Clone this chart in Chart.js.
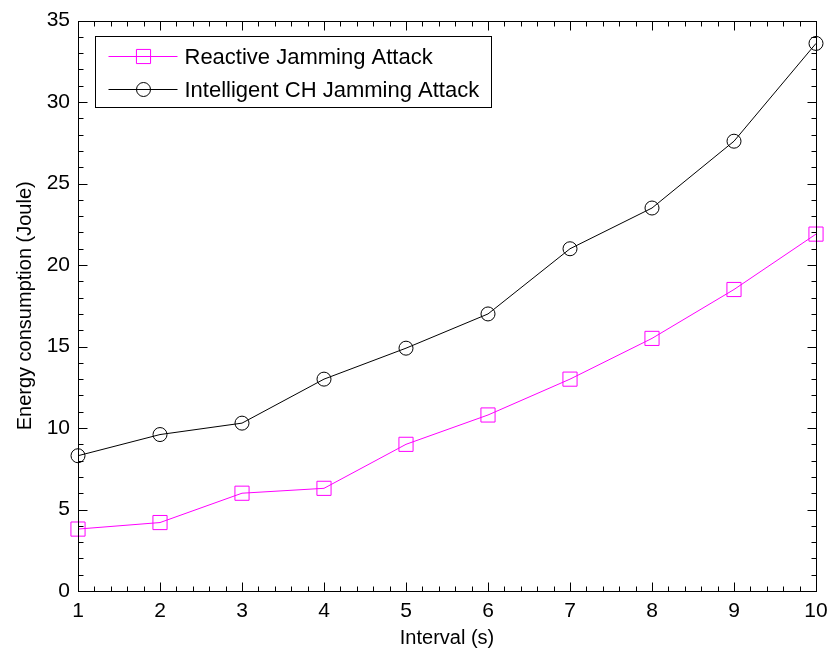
<!DOCTYPE html>
<html>
<head>
<meta charset="utf-8">
<script src="https://cdn.jsdelivr.net/npm/chart.js@4.4.1/dist/chart.umd.min.js"></script>
<style>
  body { margin: 0; background: #fff; }
  #wrap { width: 827px; height: 651px; }
</style>
</head>
<body>
<div id="wrap"><canvas id="myChart" width="827" height="651"></canvas></div>
<script>
// data
const intervals = [1, 2, 3, 4, 5, 6, 7, 8, 9, 10];
const reactiveJamming = [3.8, 4.2, 6.0, 6.3, 9.0, 10.8, 13.0, 15.5, 18.5, 21.9];
const intelligentChJamming = [8.3, 9.6, 10.3, 13.0, 14.9, 17.0, 21.0, 23.5, 27.6, 33.6];
const seriesNames = ['Reactive Jamming Attack', 'Intelligent CH Jamming Attack'];
const xTitle = 'Interval (s)';
const yTitle = 'Energy consumption (Joule)';

const FONT = "'Liberation Sans', Arial, sans-serif";

function toPoints(values) {
    return intervals.map((x, i) => ({ x: x, y: values[i] }));
}

// inward tick marks on all four sides + box frame
const frameTicks = {
    id: 'frameTicks',
    afterDraw(chart) {
        const ctx = chart.ctx;
        const a = chart.chartArea;
        const xs = chart.scales.x;
        const ys = chart.scales.y;
        const L = Math.round(a.left) + 0.5, R = Math.round(a.right) + 0.5;
        const T = Math.round(a.top) + 0.5, B = Math.round(a.bottom) + 0.5;
        ctx.save();
        ctx.strokeStyle = '#000';
        ctx.lineWidth = 1;
        ctx.beginPath();
        // x ticks, minor every 0.2
        for (let k = 0; k <= 45; k++) {
            const v = xs.min + k * 0.2;
            const px = Math.round(xs.getPixelForValue(v)) + 0.5;
            const len = k % 5 === 0 ? 9 : 5;
            ctx.moveTo(px, B); ctx.lineTo(px, B - len);
            ctx.moveTo(px, T); ctx.lineTo(px, T + len);
        }
        // y ticks, minor every 1
        for (let v = ys.min; v <= ys.max; v++) {
            const py = Math.round(ys.getPixelForValue(v)) + 0.5;
            const len = v % 5 === 0 ? 9 : 5;
            ctx.moveTo(L, py); ctx.lineTo(L + len, py);
            ctx.moveTo(R, py); ctx.lineTo(R - len, py);
        }
        ctx.stroke();
        ctx.strokeRect(L, T, R - L, B - T);
        ctx.restore();
    }
};

// legend box in the upper left of the plot
const boxLegend = {
    id: 'boxLegend',
    afterDraw(chart) {
        const ctx = chart.ctx;
        const a = chart.chartArea;
        const bx = Math.round(a.left) + 17.5, by = Math.round(a.top) + 15.5;
        const bw = 396, bh = 71;
        ctx.save();
        ctx.fillStyle = '#fff';
        ctx.fillRect(bx, by, bw, bh);
        ctx.strokeStyle = '#000';
        ctx.lineWidth = 1;
        ctx.strokeRect(bx, by, bw, bh);
        chart.data.datasets.forEach((ds, i) => {
            const y = Math.round(by + 19 + i * 33) + 0.5;
            ctx.strokeStyle = ds.borderColor;
            ctx.lineWidth = 1;
            ctx.beginPath();
            ctx.moveTo(bx + 13, y);
            ctx.lineTo(bx + 82, y);
            ctx.stroke();
            ctx.fillStyle = 'rgba(0,0,0,0)';
            Chart.helpers.drawPoint(ctx, {
                pointStyle: ds.pointStyle,
                radius: ds.pointRadius,
                borderWidth: 1,
                rotation: 0
            }, bx + 48, y);
            ctx.fillStyle = '#000';
            ctx.font = '22px ' + FONT;
            ctx.textBaseline = 'middle';
            ctx.fillText(ds.label, bx + 89, y + 1);
        });
        ctx.restore();
    }
};

const ctx = document.getElementById('myChart').getContext('2d');
const chart = new Chart(ctx, {
    type: 'line',
    data: {
        datasets: [{
            label: seriesNames[0],
            data: toPoints(reactiveJamming),
            borderColor: '#ff00ff',
            backgroundColor: 'transparent',
            borderWidth: 1,
            pointStyle: 'rect',
            pointRadius: 10,
            pointBorderWidth: 1,
            pointBorderColor: '#ff00ff',
            pointBackgroundColor: 'transparent'
        }, {
            label: seriesNames[1],
            data: toPoints(intelligentChJamming),
            borderColor: '#000000',
            backgroundColor: 'transparent',
            borderWidth: 1,
            pointStyle: 'circle',
            pointRadius: 7,
            pointBorderWidth: 1,
            pointBorderColor: '#000000',
            pointBackgroundColor: 'transparent'
        }]
    },
    options: {
        responsive: false,
        animation: false,
        clip: false,
        layout: { padding: { top: 18, right: 0, left: 0, bottom: 0 } },
        plugins: {
            legend: { display: false },
            tooltip: { enabled: false }
        },
        scales: {
            x: {
                type: 'linear',
                min: 1,
                max: 10,
                afterFit(scale) {
                    scale.height = 60;
                    scale.paddingRight = 11;
                },
                grid: { display: false, drawTicks: false },
                border: { display: false },
                ticks: {
                    stepSize: 1,
                    padding: 8,
                    color: '#000',
                    maxRotation: 0,
                    font: { family: FONT, size: 21 }
                },
                title: {
                    display: true,
                    text: xTitle,
                    color: '#000',
                    padding: { top: 0, bottom: 1 },
                    font: { family: FONT, size: 20 }
                }
            },
            y: {
                min: 0,
                max: 35,
                afterFit(scale) { scale.width = 78; },
                grid: { display: false, drawTicks: false },
                border: { display: false },
                ticks: {
                    stepSize: 5,
                    padding: 8,
                    color: '#000',
                    font: { family: FONT, size: 21 }
                },
                title: {
                    display: true,
                    text: yTitle,
                    color: '#000',
                    padding: { top: 13, bottom: 0 },
                    font: { family: FONT, size: 20 }
                }
            }
        }
    },
    plugins: [frameTicks, boxLegend]
});
</script>
</body>
</html>
